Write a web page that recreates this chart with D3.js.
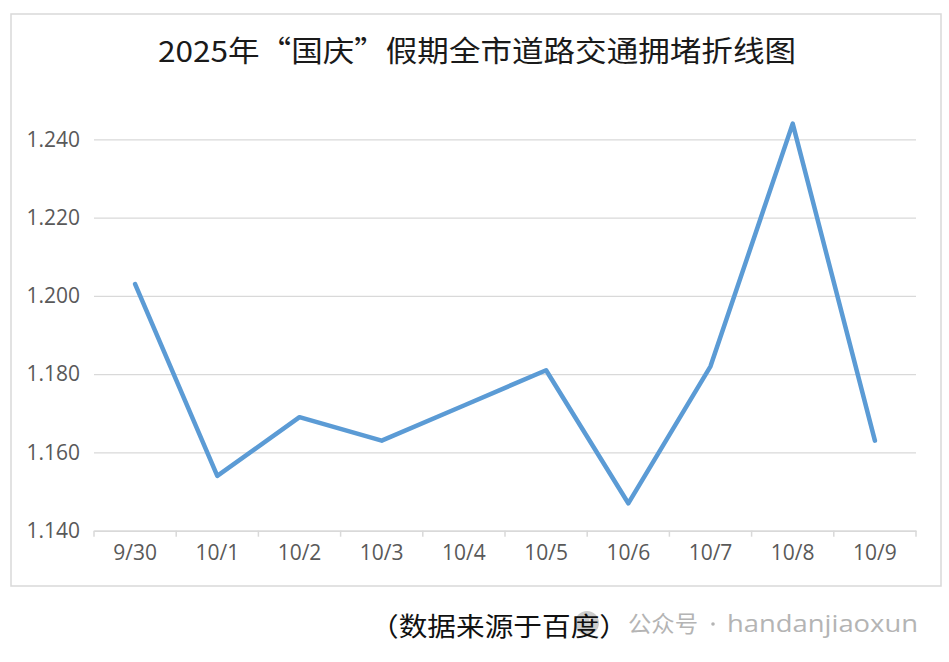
<!DOCTYPE html>
<html>
<head>
<meta charset="utf-8">
<script src="https://cdn.jsdelivr.net/npm/d3@7/dist/d3.min.js"></script>
<style>
  html, body { margin: 0; padding: 0; background: #fff; }
  svg { display: block; }
</style>
</head>
<body>
<svg width="949" height="662"></svg>
<script>
// datos
const dates = ["9/30", "10/1", "10/2", "10/3", "10/4", "10/5", "10/6", "10/7", "10/8", "10/9"];
const congestion = [1.203, 1.154, 1.169, 1.163, 1.172, 1.181, 1.147, 1.182, 1.244, 1.163];
const yTicks = [1.140, 1.160, 1.180, 1.200, 1.220, 1.240];

const title = "2025年“国庆”假期全市道路交通拥堵折线图";
const source = "（数据来源于百度）";
const wmLabel = "公众号";
const wmName = "handanjiaoxun";

const plotLeft = 94, plotRight = 916, plotTop = 139.3, plotBottom = 530.7;
const axisFont = "'Open Sans', 'Noto Sans CJK SC', sans-serif";
const cjkFont = "'Noto Sans CJK SC', sans-serif";

const svg = d3.select("svg");

// marco del gráfico
svg.append("rect")
    .attr("x", 11).attr("y", 14)
    .attr("width", 930).attr("height", 572)
    .attr("fill", "#fff")
    .attr("stroke", "#d9d9d9")
    .attr("stroke-width", 1.5);

svg.append("text")
    .attr("x", 477).attr("y", 62)
    .attr("text-anchor", "middle")
    .attr("textLength", 638)
    .attr("lengthAdjust", "spacingAndGlyphs")
    .style("font-family", cjkFont)
    .style("font-size", "29px")
    .style("font-weight", 400)
    .attr("fill", "#1a1a1a")
    .text(title);

const x = d3.scaleBand().domain(dates).range([plotLeft, plotRight]);
const y = d3.scaleLinear().domain([1.140, 1.240]).range([plotBottom, plotTop]);

// líneas de cuadrícula + etiquetas del eje y
const yAxis = svg.append("g")
    .attr("transform", `translate(${plotLeft},0)`)
    .call(d3.axisLeft(y).tickValues(yTicks).tickFormat(d3.format(".3f"))
        .tickSize(-(plotRight - plotLeft)).tickPadding(14));
yAxis.select(".domain").remove();
yAxis.selectAll(".tick line").attr("stroke", "#d9d9d9").attr("stroke-width", 1.3);
yAxis.selectAll(".tick text")
    .attr("fill", "#595959")
    .style("font-family", axisFont)
    .style("font-size", "21px");

// eje x
const xAxis = svg.append("g")
    .attr("transform", `translate(0,${plotBottom})`)
    .call(d3.axisBottom(x).tickSize(0).tickPadding(14));
xAxis.select(".domain").attr("stroke", "#d9d9d9").attr("stroke-width", 1.5);
xAxis.selectAll(".tick text")
    .attr("fill", "#595959")
    .style("font-family", axisFont)
    .style("font-size", "21px");

// marcas entre categorías
const bounds = dates.map(d => x(d)).concat([x(dates[dates.length - 1]) + x.bandwidth()]);
svg.append("g").selectAll("line")
    .data(bounds)
    .join("line")
    .attr("x1", d => d).attr("x2", d => d)
    .attr("y1", plotBottom).attr("y2", plotBottom + 6)
    .attr("stroke", "#d9d9d9")
    .attr("stroke-width", 1.5);

// la línea
const line = d3.line()
    .x((d, i) => x(dates[i]) + x.bandwidth() / 2)
    .y(d => y(d));

svg.append("path")
    .datum(congestion)
    .attr("d", line)
    .attr("fill", "none")
    .attr("stroke", "#5b9bd5")
    .attr("stroke-width", 4.5)
    .attr("stroke-linejoin", "round")
    .attr("stroke-linecap", "round");

// marca de agua (icono detrás del texto)
const wm = svg.append("g").attr("opacity", 0.5);
wm.append("circle").attr("cx", 587).attr("cy", 623).attr("r", 12).attr("fill", "#9a9a9a");
wm.append("circle").attr("cx", 583).attr("cy", 620).attr("r", 1.8).attr("fill", "#fff");
wm.append("circle").attr("cx", 591).attr("cy", 620).attr("r", 1.8).attr("fill", "#fff");

// fuente
svg.append("text")
    .attr("x", 370).attr("y", 636)
    .attr("textLength", 258)
    .attr("lengthAdjust", "spacingAndGlyphs")
    .style("font-family", cjkFont)
    .style("font-size", "26px")
    .attr("fill", "#111")
    .text(source);

svg.append("text")
    .attr("x", 628).attr("y", 632)
    .attr("textLength", 70)
    .attr("lengthAdjust", "spacingAndGlyphs")
    .style("font-family", cjkFont)
    .style("font-size", "23px")
    .attr("fill", "#b4b4b4")
    .text(wmLabel);
svg.append("circle")
    .attr("cx", 713).attr("cy", 624).attr("r", 1.8)
    .attr("fill", "#b4b4b4");
svg.append("text")
    .attr("x", 727).attr("y", 632)
    .attr("textLength", 191)
    .attr("lengthAdjust", "spacingAndGlyphs")
    .style("font-family", axisFont)
    .style("font-size", "24px")
    .attr("fill", "#b4b4b4")
    .text(wmName);
</script>
</body>
</html>
